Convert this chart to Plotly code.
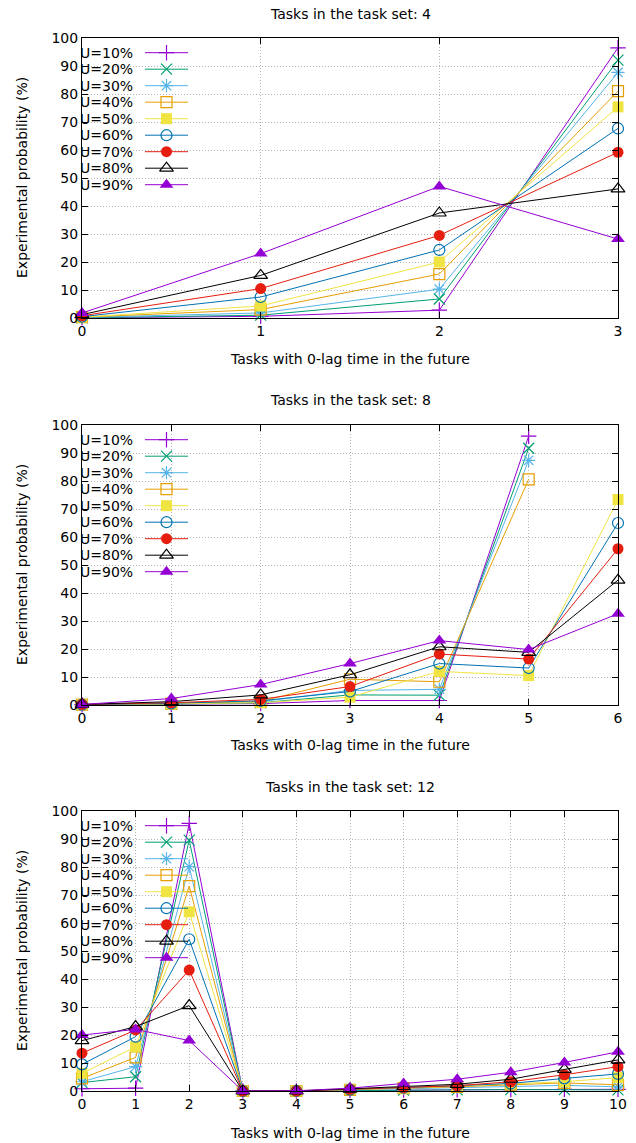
import plotly.graph_objects as go

W, H = 636, 1143

labels = ["U=10%", "U=20%", "U=30%", "U=40%", "U=50%", "U=60%", "U=70%", "U=80%", "U=90%"]
colors = ["#9400d3", "#009e73", "#56b4e9", "#e69f00", "#f0e442",
          "#0072b2", "#e51e10", "#000000", "#9400d3"]
symbols = ["cross-thin-open", "x-thin-open", "asterisk-open", "square-open", "square",
           "circle-open", "circle", "triangle-up-open", "triangle-up"]

# ---- Task set with 4 tasks (x = 0..3)
x_t4 = [0, 1, 2, 3]
t4_u10 = [0.1, 0.6, 2.8, 96.5]
t4_u20 = [0.1, 1.0, 6.8, 92.1]
t4_u30 = [0.2, 1.8, 10.3, 87.7]
t4_u40 = [0.3, 3.0, 15.7, 81.0]
t4_u50 = [0.3, 4.3, 20.0, 75.4]
t4_u60 = [0.5, 7.5, 24.3, 67.7]
t4_u70 = [0.8, 10.5, 29.5, 59.2]
t4_u80 = [1.2, 15.2, 37.5, 46.1]
t4_u90 = [1.8, 23.0, 47.0, 28.2]

# ---- Task set with 8 tasks (x = 0..6)
x_t8 = [0, 1, 2, 3, 4, 5, 6]
t8_u10 = [0.1, 0.2, 0.5, 1.6, 1.6, 96.0]
t8_u20 = [0.1, 0.3, 0.8, 3.6, 3.5, 91.7]
t8_u30 = [0.1, 0.5, 1.2, 5.2, 5.6, 87.4]
t8_u40 = [0.1, 0.5, 1.3, 9.2, 8.3, 80.6]
t8_u50 = [0.1, 0.4, 0.8, 2.8, 12.0, 10.5, 73.4]
t8_u60 = [0.1, 0.6, 1.5, 4.8, 14.8, 13.2, 65.0]
t8_u70 = [0.2, 0.8, 2.0, 6.6, 18.2, 16.4, 55.8]
t8_u80 = [0.2, 1.2, 3.6, 10.8, 20.8, 18.8, 44.6]
t8_u90 = [0.2, 2.3, 7.3, 14.8, 23.0, 19.8, 32.6]

# ---- Task set with 12 tasks (x = 0..10)
x_t12 = [0, 1, 2, 3, 4, 5, 6, 7, 8, 9, 10]
t12_u10 = [0.8, 1.0, 95.6, 0, 0, 0.2, 0.3, 0.4, 0.5, 0.6, 0.6]
t12_u20 = [3.0, 5.1, 89.6, 0, 0, 0.2, 0.3, 0.4, 0.5, 0.5, 0.4]
t12_u30 = [3.3, 8.7, 80.1, 0, 0, 0.4, 0.9, 1.3, 1.8, 2.0, 1.5]
t12_u40 = [4.5, 12.0, 73.2, 0, 0, 0.4, 1.0, 1.5, 2.3, 2.9, 2.2]
t12_u50 = [6.3, 15.8, 64.0, 0, 0, 0.5, 1.0, 1.8, 2.5, 3.3, 4.8]
t12_u60 = [9.5, 19.4, 54.2, 0, 0, 0.5, 1.2, 1.9, 2.7, 4.5, 6.1]
t12_u70 = [13.5, 21.8, 43.2, 0, 0, 0.6, 1.2, 1.9, 3.3, 5.8, 8.7]
t12_u80 = [18.0, 23.0, 30.5, 0, 0, 0.7, 1.6, 2.4, 4.2, 7.7, 11.1]
t12_u90 = [20.0, 22.0, 18.0, 0, 0.1, 1.0, 2.7, 4.2, 6.7, 10.2, 14.0]

panels = [
    ("Tasks in the task set: 4", x_t4,
     [t4_u10, t4_u20, t4_u30, t4_u40, t4_u50, t4_u60, t4_u70, t4_u80, t4_u90], 3),
    ("Tasks in the task set: 8", x_t8,
     [t8_u10, t8_u20, t8_u30, t8_u40, t8_u50, t8_u60, t8_u70, t8_u80, t8_u90], 6),
    ("Tasks in the task set: 12", x_t12,
     [t12_u10, t12_u20, t12_u30, t12_u40, t12_u50, t12_u60, t12_u70, t12_u80, t12_u90], 10),
]

# ---- layout geometry (pixels; the page margin is removed so figure = window)
left_px, right_px = 82, 618
boxes = [(38, 318), (425, 705), (811, 1091)]
title_y = [14, 400, 787]
xlab_y = [359, 745, 1133]
ylab_x = 22
key_first_dy, key_step = 14.7, 16.5       # key rows below plot top
key_text_right = 135                      # right edge of key labels
key_line = (145, 188)                     # key sample segment
key_mark = 166.5

FONT = "DejaVu Sans"
FS = 14
plot_w = right_px - left_px


def msize(sym):
    return 12 if sym.startswith("triangle") else 11


def mline(sym):
    return 1.2 if sym.endswith("-open") else 0


fig = go.Figure()
annotations = []
shapes = []
layout = {}
txt = dict(family=FONT, size=FS, color="black")

for i, (title, xs, series, xmax) in enumerate(panels):
    n = "" if i == 0 else str(i + 1)
    top, bot = boxes[i]
    plot_h = bot - top
    ydom = [1 - bot / H, 1 - top / H]
    xdom = [left_px / W, right_px / W]

    def px_to_x(px):
        return (px - left_px) / plot_w * xmax

    def py_to_y(py):
        return (bot - py) / plot_h * 100

    for k, ys in enumerate(series):
        sym = symbols[k]
        fig.add_trace(go.Scatter(
            x=xs[:len(ys)], y=ys, name=labels[k], mode="lines+markers",
            xaxis="x" + n, yaxis="y" + n, showlegend=False, cliponaxis=False,
            line=dict(color=colors[k], width=1),
            marker=dict(symbol=sym, size=msize(sym), color=colors[k],
                        line=dict(width=mline(sym), color=colors[k])),
        ))

    # key (gnuplot style: label, then sample)
    for k in range(len(series)):
        sym = symbols[k]
        ry = top + key_first_dy + key_step * k
        shapes.append(dict(type="line", xref="x" + n, yref="y" + n,
                           x0=px_to_x(key_line[0]), x1=px_to_x(key_line[1]),
                           y0=py_to_y(ry), y1=py_to_y(ry),
                           line=dict(color=colors[k], width=1), layer="above"))
        fig.add_trace(go.Scatter(
            x=[px_to_x(key_mark)], y=[py_to_y(ry)], mode="markers",
            xaxis="x" + n, yaxis="y" + n, showlegend=False, cliponaxis=False,
            hoverinfo="skip",
            marker=dict(symbol=sym, size=msize(sym), color=colors[k],
                        line=dict(width=mline(sym), color=colors[k])),
        ))
        annotations.append(dict(text=labels[k], x=key_text_right / W, y=1 - ry / H,
                                xref="paper", yref="paper", xanchor="right",
                                yanchor="middle", showarrow=False, font=txt))

    axis_common = dict(showline=True, linecolor="black", linewidth=1, mirror="allticks",
                       ticks="inside", ticklen=6, tickcolor="black", tickwidth=1,
                       showgrid=True, gridcolor="#b4b4b4", griddash="1px,2px",
                       gridwidth=1, zeroline=False, tickfont=txt)
    layout["xaxis" + n] = dict(axis_common, domain=xdom, range=[0, xmax], dtick=1,
                               anchor="y" + n)
    layout["yaxis" + n] = dict(axis_common, domain=ydom, range=[0, 100], dtick=10,
                               anchor="x" + n)
    cx = (left_px + right_px) / 2 / W
    annotations.append(dict(text=title, x=cx, y=1 - title_y[i] / H,
                            xref="paper", yref="paper", xanchor="center",
                            yanchor="middle", showarrow=False, font=txt))
    annotations.append(dict(text="Tasks with 0-lag time in the future", x=cx,
                            y=1 - xlab_y[i] / H, xref="paper", yref="paper",
                            xanchor="center", yanchor="middle",
                            showarrow=False, font=txt))
    annotations.append(dict(text="Experimental probability (%)", x=ylab_x / W,
                            y=1 - (top + bot) / 2 / H, xref="paper", yref="paper",
                            xanchor="center", yanchor="middle",
                            textangle=-90, showarrow=False, font=txt))

fig.update_layout(width=W, height=H,
                  margin=dict(l=0, r=0, t=0, b=0, pad=0, autoexpand=False),
                  paper_bgcolor="white", plot_bgcolor="white", showlegend=False,
                  hovermode=False,
                  annotations=annotations, shapes=shapes, **layout)

fig.write_html("out.html",
               config={"displayModeBar": False, "staticPlot": True},
               post_script="document.body.style.margin='0';"
                           "document.body.style.overflow='hidden';")
